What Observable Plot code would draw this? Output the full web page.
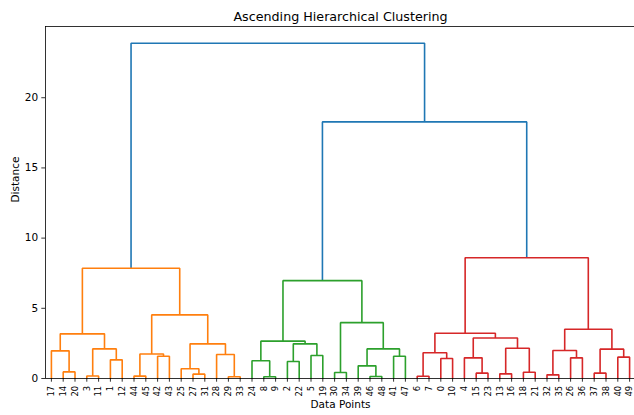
<!DOCTYPE html>
<html>
<head>
<meta charset="utf-8">
<script src="https://cdn.jsdelivr.net/npm/d3@7"></script>
<script src="https://cdn.jsdelivr.net/npm/@observablehq/plot@0.6"></script>
<style>
  body { margin: 0; background: #fff; }
  svg { display: block; }
</style>
</head>
<body>
<div id="chart"></div>
<script>
// Linkage rows, scipy style: [left id, right id, merge distance].
// Ids 0..49 are data points; id 50 + k is the cluster made by row k.
const nPoints = 50;
const linkage = [
  [14, 20, 0.47],   // 50
  [17, 50, 1.97],   // 51
  [3, 11, 0.18],    // 52
  [1, 12, 1.33],    // 53
  [52, 53, 2.11],   // 54
  [51, 54, 3.18],   // 55
  [44, 45, 0.17],   // 56
  [42, 43, 1.59],   // 57
  [56, 57, 1.75],   // 58
  [27, 31, 0.31],   // 59
  [25, 59, 0.69],   // 60
  [29, 33, 0.12],   // 61
  [28, 61, 1.71],   // 62
  [60, 62, 2.47],   // 63
  [58, 63, 4.53],   // 64
  [55, 64, 7.85],   // 65
  [8, 9, 0.12],     // 66
  [24, 66, 1.26],   // 67
  [2, 22, 1.21],    // 68
  [5, 19, 1.64],    // 69
  [68, 69, 2.47],   // 70
  [67, 70, 2.66],   // 71
  [30, 34, 0.43],   // 72
  [46, 48, 0.14],   // 73
  [39, 73, 0.90],   // 74
  [41, 47, 1.59],   // 75
  [74, 75, 2.11],   // 76
  [72, 76, 3.98],   // 77
  [71, 77, 6.97],   // 78
  [6, 7, 0.16],     // 79
  [0, 10, 1.42],    // 80
  [79, 80, 1.83],   // 81
  [15, 23, 0.38],   // 82
  [4, 82, 1.47],    // 83
  [13, 16, 0.33],   // 84
  [18, 21, 0.45],   // 85
  [84, 85, 2.16],   // 86
  [83, 86, 2.89],   // 87
  [81, 87, 3.22],   // 88
  [32, 35, 0.26],   // 89
  [26, 36, 1.47],   // 90
  [89, 90, 1.99],   // 91
  [37, 38, 0.38],   // 92
  [40, 49, 1.52],   // 93
  [92, 93, 2.09],   // 94
  [91, 94, 3.51],   // 95
  [88, 95, 8.60],   // 96
  [78, 96, 18.28],  // 97
  [65, 97, 23.88]   // 98
];
const clusterColors = ["#ff7f0e", "#2ca02c", "#d62728"];
const aboveThresholdColor = "#1f77b4";
const yTicks = [0, 5, 10, 15, 20];
const titleText = "Ascending Hierarchical Clustering";
const xLabel = "Data Points";
const yLabel = "Distance";

// Build the tree from the linkage rows.
function buildNode(id) {
  if (id < nPoints) return { id, leaf: true };
  const [a, b, h] = linkage[id - nPoints];
  return { id, left: buildNode(a), right: buildNode(b), h };
}
const root = buildNode(nPoints + linkage.length - 1);

// Leaf order: left-to-right traversal.
const order = [];
(function walk(n) { if (n.leaf) order.push(n.id); else { walk(n.left); walk(n.right); } })(root);

// Leaves sit at 5, 15, 25, ...; a cluster sits midway between its children.
const leafX = order.map((_, i) => 5 + 10 * i);
const labelAt = new Map(order.map((id, i) => [leafX[i], String(id)]));
(function place(n) {
  if (n.leaf) { n.x = 5 + 10 * order.indexOf(n.id); n.y = 0; return; }
  place(n.left); place(n.right);
  n.x = (n.left.x + n.right.x) / 2; n.y = n.h;
})(root);

// Colour clusters that merge below 70% of the largest distance.
const maxH = d3.max(linkage, d => d[2]);
const threshold = 0.7 * maxH;
let nextColor = 0;
(function paint(n, inherited) {
  if (n.leaf) return;
  let c = inherited;
  if (!c && n.h < threshold) c = clusterColors[nextColor++ % clusterColors.length];
  n.color = c || aboveThresholdColor;
  paint(n.left, c); paint(n.right, c);
})(root);

// Each merge becomes a U-shaped link: down to both children.
const links = [];
(function collect(n) {
  if (n.leaf) return;
  const k = n.id, c = n.color;
  links.push(
    { k, c, x: n.left.x, y: n.left.y },
    { k, c, x: n.left.x, y: n.h },
    { k, c, x: n.right.x, y: n.h },
    { k, c, x: n.right.x, y: n.right.y }
  );
  collect(n.left); collect(n.right);
})(root);

const chart = Plot.plot({
  width: 634,
  height: 415,
  marginLeft: 45,
  marginRight: -1,
  marginTop: 26,
  marginBottom: 37,
  style: { fontFamily: "DejaVu Sans", fontSize: "10.5px", color: "#000", background: "#fff" },
  x: { domain: [0, 10 * nPoints] },
  y: { domain: [0, maxH * 1.05] },
  color: { type: "identity" },
  marks: [
    Plot.line(links, { x: "x", y: "y", z: "k", stroke: "c", strokeWidth: 1.6, strokeLinejoin: "miter", strokeLinecap: "butt" }),
    Plot.frame({ stroke: "#000", strokeWidth: 0.8 }),
    Plot.axisY(yTicks, { tickSize: 3.7, tickPadding: 3.7, label: null, fontSize: 10.5, stroke: "#000", strokeWidth: 0.8 }),
    Plot.axisX(leafX, {
      tickFormat: v => labelAt.get(v),
      tickRotate: -90,
      tickSize: 3.7,
      tickPadding: 3.7,
      fontSize: 8.4,
      label: null,
      stroke: "#000",
      strokeWidth: 0.8
    }),
    Plot.text([xLabel], { frameAnchor: "bottom", dy: 29, fontSize: 10.5, fill: "#000" }),
    Plot.text([yLabel], { frameAnchor: "left", dx: -30, rotate: -90, fontSize: 10.5, fill: "#000" }),
    Plot.text([titleText], { frameAnchor: "top", dy: -6, lineAnchor: "bottom", fontSize: 12.7, fill: "#000" })
  ]
});
document.getElementById("chart").appendChild(chart);
</script>
</body>
</html>
